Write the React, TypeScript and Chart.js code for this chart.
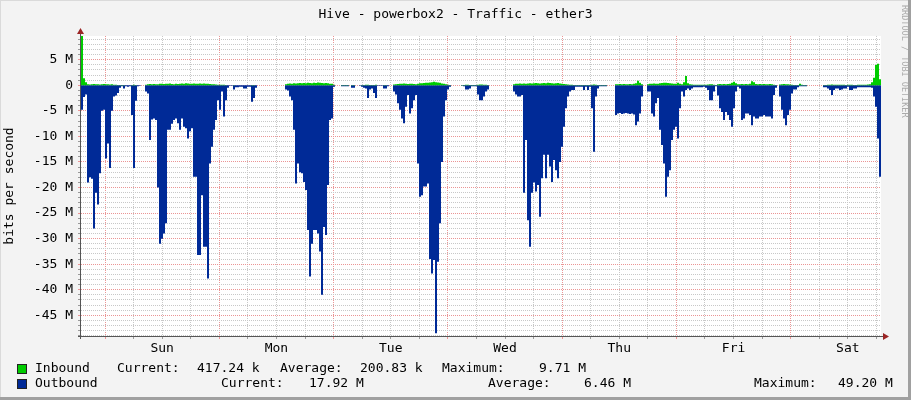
import { useEffect, useRef } from 'react';
import { Chart, registerables } from 'chart.js';

Chart.register(...registerables);

const TITLE = 'Hive - powerbox2 - Traffic - ether3';
const Y_TITLE = 'bits per second';
const WATERMARK = 'RRDTOOL / TOBI OETIKER';
const DAY_LABELS = ['Sun', 'Mon', 'Tue', 'Wed', 'Thu', 'Fri', 'Sat'];

// time axis in hours over one week; first midnight (Sun 00:00) after start
const SPAN_HOURS = 168;
const FIRST_MIDNIGHT = 5.04;
const SAMPLE_HOURS = 0.42; // 400 samples over 168 h

const Y_MIN = -49.05;
const Y_MAX = 9.65;

// Inbound traffic, Mbit/s (plotted upward)
const inbound = [
  9.7, 1.4, 0.6, 0.2, 0.15, 0.2, 0.25, 0.2, 0.2, 0.15,
  0.2, 0.25, 0.2, 0.2, 0.15, 0.2, 0.1, 0.1, 0.05, 0.05,
  0.05, 0.05, 0, 0, 0, 0.05, 0.1, 0.05, 0, 0,
  0, 0, 0.1, 0.2, 0.25, 0.2, 0.25, 0.2, 0.2, 0.3,
  0.3, 0.25, 0.3, 0.3, 0.35, 0.25, 0.2, 0.3, 0.25, 0.3,
  0.35, 0.3, 0.4, 0.35, 0.3, 0.3, 0.35, 0.3, 0.3, 0.35,
  0.3, 0.35, 0.3, 0.3, 0.25, 0.2, 0.2, 0.15, 0.1, 0.1,
  0.1, 0.1, 0.05, 0, 0, 0, 0.05, 0, 0, 0,
  0, 0, 0, 0, 0, 0.05, 0.05, 0, 0, 0,
  0, 0, 0, 0, 0, 0, 0, 0, 0, 0,
  0, 0, 0.2, 0.3, 0.35, 0.3, 0.4, 0.35, 0.4, 0.45,
  0.4, 0.45, 0.4, 0.5, 0.45, 0.4, 0.5, 0.45, 0.55, 0.5,
  0.45, 0.4, 0.45, 0.4, 0.3, 0.3, 0.1, 0, 0, 0,
  0.05, 0.05, 0.05, 0.05, 0, 0.05, 0.05, 0, 0, 0,
  0.05, 0.05, 0.1, 0.1, 0.05, 0.05, 0.05, 0.1, 0, 0,
  0, 0.05, 0.05, 0, 0, 0, 0.15, 0.2, 0.25, 0.3,
  0.3, 0.35, 0.3, 0.25, 0.3, 0.3, 0.25, 0.2, 0.3, 0.4,
  0.4, 0.45, 0.5, 0.5, 0.55, 0.6, 0.7, 0.6, 0.55, 0.5,
  0.35, 0.3, 0.2, 0.1, 0.05, 0, 0, 0, 0, 0,
  0.05, 0.05, 0.1, 0.1, 0.05, 0.05, 0.05, 0.05, 0.1, 0.15,
  0.15, 0.1, 0.1, 0.05, 0, 0, 0, 0, 0, 0,
  0, 0, 0, 0, 0, 0, 0.2, 0.3, 0.3, 0.35,
  0.3, 0.35, 0.3, 0.35, 0.4, 0.35, 0.4, 0.45, 0.4, 0.35,
  0.4, 0.45, 0.4, 0.5, 0.45, 0.4, 0.35, 0.4, 0.45, 0.35,
  0.3, 0.25, 0.2, 0.15, 0.1, 0.1, 0.05, 0.05, 0.05, 0.05,
  0.05, 0.05, 0.05, 0.05, 0.05, 0.1, 0.15, 0.1, 0.05, 0.05,
  0.05, 0.05, 0.05, 0, 0, 0, 0, 0.2, 0.2, 0.25,
  0.2, 0.25, 0.2, 0.2, 0.25, 0.2, 0.3, 0.4, 0.9, 0.5,
  0.2, 0, 0, 0.2, 0.3, 0.3, 0.35, 0.3, 0.3, 0.4,
  0.45, 0.5, 0.5, 0.45, 0.4, 0.35, 0.3, 0.3, 0.5, 0.3,
  0.2, 0.6, 1.8, 0.4, 0.2, 0.15, 0.1, 0.1, 0.1, 0.1,
  0.1, 0.1, 0.1, 0.15, 0.2, 0.2, 0.1, 0.05, 0.2, 0.25,
  0.2, 0.25, 0.2, 0.25, 0.3, 0.5, 0.7, 0.4, 0.2, 0.2,
  0.25, 0.2, 0.25, 0.2, 0.3, 0.8, 0.6, 0.25, 0.2, 0.25,
  0.2, 0.25, 0.2, 0.2, 0.25, 0.2, 0.1, 0.05, 0, 0.15,
  0.2, 0.25, 0.2, 0.2, 0.15, 0.1, 0.05, 0.05, 0.05, 0.3,
  0.1, 0.05, 0.05, 0, 0, 0, 0, 0, 0, 0,
  0, 0.05, 0.05, 0.1, 0.1, 0.15, 0.1, 0.1, 0.1, 0.1,
  0.1, 0.1, 0.05, 0.1, 0.1, 0.1, 0.05, 0.05, 0.1, 0.1,
  0.1, 0.1, 0.1, 0.15, 0.2, 0.6, 1.5, 4.0, 4.2, 1.2,
];

// Outbound traffic, Mbit/s (plotted downward)
const outbound = [
  -4.8, -2.3, -1.8, -19, -18, -18.3, -28, -21, -23.3, -17.2,
  -5, -4.8, -14.3, -11.4, -16.2, -5, -2.2, -2, -1.5, -0.5,
  -0.2, -0.6, -0.2, -0.3, -0.2, -5.8, -16.2, -3, -0.2, -0.1,
  0, 0, -1.2, -1.6, -10.7, -6.7, -6.5, -6.8, -20, -31,
  -30, -29, -27, -8.7, -8.7, -7.5, -6.8, -6.5, -7.4, -8.7,
  -6.5, -8.1, -8.4, -10.4, -9, -8.4, -17.9, -17.9, -33.2, -33.2,
  -21.5, -31.6, -31.6, -37.8, -15.3, -12, -8.7, -6.8, -2.9, -4.8,
  -1.2, -6.1, -2.9, -0.5, -0.1, -0.1, -0.8, -0.4, -0.4, -0.3,
  -0.3, -0.6, -0.6, -0.3, -0.3, -3.2, -2.5, -0.5, 0, 0,
  0, 0, 0, 0, 0, 0, 0, 0, 0, 0,
  0, 0, -0.8, -1.0, -2.2, -2.9, -8.7, -19.2, -15.3, -17.0,
  -17.2, -18.9, -20.5, -28.3, -37.4, -31, -28.3, -28.3, -29, -32.5,
  -41, -27.7, -29.3, -19.5, -6.8, -6.5, -0.3, 0, 0, 0,
  -0.2, -0.2, -0.2, -0.2, 0, -0.5, -0.5, 0, 0, -0.1,
  -0.3, -0.5, -0.6, -2.5, -0.8, -0.6, -1.5, -2.5, -0.1, -0.1,
  -0.1, -0.6, -0.6, -0.2, 0, 0, -1.2, -1.8, -3.5, -4.8,
  -6.5, -7.4, -4.2, -1.9, -5.5, -4.5, -2.9, -1.9, -15.3, -21.8,
  -21.5, -19.8, -19.8, -19.2, -34, -36.8, -34.2, -48.5, -34.5, -27,
  -15, -6.1, -2.9, -0.8, -0.3, 0, 0, 0, 0, 0,
  -0.1, -0.2, -0.8, -0.8, -0.6, -0.2, -0.2, -0.2, -1.8, -2.9,
  -2.9, -2.2, -1.2, -0.8, 0, 0, 0, 0, 0, 0,
  0, 0, 0, 0, 0, 0, -1.2, -1.8, -2.2, -2.2,
  -1.9, -21, -10.7, -26.4, -31.6, -21, -19, -20.8, -19.5, -25.7,
  -18.2, -13.6, -18.2, -13.6, -15.9, -18.9, -14.6, -16.6, -18.2, -15,
  -12, -8.1, -4.5, -2.2, -1.2, -0.9, -0.9, -0.3, -0.3, -0.3,
  -0.3, -0.9, -0.3, -0.9, -0.3, -4.5, -13, -2.2, -0.6, -0.2,
  -0.2, -0.2, -0.2, 0, 0, 0, 0, -5.8, -5.5, -5.4,
  -5.6, -5.5, -5.4, -5.5, -5.6, -5.5, -5.7, -7.8, -7.1, -5.5,
  -2.2, 0, 0, -1.2, -1.2, -5.5, -6.1, -3.5, -2.5, -8.7,
  -11.7, -15.3, -21.8, -17.9, -16.6, -10.7, -8.7, -8.1, -10.4, -4.5,
  -1.2, -2.2, -0.9, -0.6, -0.9, -0.6, -0.4, -0.4, -0.4, -0.4,
  -0.4, -0.3, -0.5, -0.9, -2.9, -2.9, -1.2, -0.2, -2, -4.5,
  -5.2, -6.8, -5.2, -5.8, -6.8, -8.1, -4.5, -1.2, -0.3, -0.6,
  -6.8, -6.5, -5.5, -5.5, -5.8, -7.8, -6.1, -6.5, -6.5, -6.1,
  -6.1, -5.8, -6.1, -6.1, -6.1, -6.5, -1.9, -0.5, 0, -2.2,
  -4.8, -6.5, -7.8, -5.8, -4.8, -1.6, -0.8, -0.8, -0.4, -0.2,
  -0.2, -0.2, -0.2, 0, 0, 0, 0, 0, 0, 0,
  0, -0.4, -0.4, -0.6, -0.9, -1.9, -0.9, -0.6, -0.6, -0.9,
  -0.8, -0.6, -0.6, -0.3, -0.9, -0.9, -0.6, -0.6, -0.4, -0.4,
  -0.4, -0.4, -0.4, -0.4, -0.4, -0.5, -2.2, -4.2, -10.4, -17.9,
];

const legendInbound = ['Inbound', 'Current:', '417.24 k', 'Average:', '200.83 k', 'Maximum:', '9.71 M'];
const legendOutbound = ['Outbound', 'Current:', '17.92 M', 'Average:', '6.46 M', 'Maximum:', '49.20 M'];

const GREEN = '#00CC00';
const BLUE = '#002A97';
const MINOR = '#C8C8C8';
const MAJOR = '#EB9595';
const FONT_FAMILY = '"DejaVu Sans Mono", monospace';

function toPoints(values: number[]) {
  const pts = values.map((v, i) => ({ x: i * SAMPLE_HOURS, y: v }));
  pts.push({ x: SPAN_HOURS, y: values[values.length - 1] });
  return pts;
}

const xGridHours = Array.from({ length: 28 }, (_, k) => FIRST_MIDNIGHT + 6 * k);
const yGridValues = Array.from({ length: 59 }, (_, k) => -49 + k);

function isMidnight(h: number) {
  const k = Math.round((h - FIRST_MIDNIGHT) / 6);
  return k % 4 === 0;
}

const rrdPlugin = {
  id: 'rrdDecor',
  beforeDraw(chart: any) {
    const { ctx, chartArea: a } = chart;
    ctx.save();
    ctx.fillStyle = '#F3F3F3';
    ctx.fillRect(0, 0, chart.width, chart.height);
    ctx.fillStyle = '#FFFFFF';
    ctx.fillRect(a.left, a.top, a.right - a.left, a.bottom - a.top);
    ctx.restore();
  },
  afterDraw(chart: any) {
    const { ctx, chartArea: a } = chart;
    ctx.save();
    // axes
    ctx.strokeStyle = '#555555';
    ctx.lineWidth = 1;
    ctx.beginPath();
    ctx.moveTo(a.left - 0.5, a.bottom + 3);
    ctx.lineTo(a.left - 0.5, a.top - 3);
    ctx.moveTo(a.left - 3, a.bottom + 0.5);
    ctx.lineTo(a.right + 3, a.bottom + 0.5);
    ctx.stroke();
    // arrows
    ctx.fillStyle = '#9B2525';
    ctx.beginPath();
    ctx.moveTo(a.left - 4, a.top - 2);
    ctx.lineTo(a.left + 3, a.top - 2);
    ctx.lineTo(a.left - 0.5, a.top - 8);
    ctx.closePath();
    ctx.fill();
    ctx.beginPath();
    ctx.moveTo(a.right + 2, a.bottom - 3);
    ctx.lineTo(a.right + 2, a.bottom + 4);
    ctx.lineTo(a.right + 8, a.bottom + 0.5);
    ctx.closePath();
    ctx.fill();

    // legend
    ctx.font = `13px ${FONT_FAMILY}`;
    ctx.textBaseline = 'middle';
    ctx.textAlign = 'left';
    const rows = [
      { y: 368.5, color: GREEN, items: legendInbound, xs: [35, 117, 197, 280, 360, 442, 539] },
      { y: 384, color: BLUE, items: legendOutbound, xs: [35, 221, 309, 488, 584, 754, 838] },
    ];
    rows.forEach((r) => {
      ctx.fillStyle = r.color;
      ctx.fillRect(17, Math.round(r.y) - 5, 10, 10);
      ctx.strokeStyle = '#222222';
      ctx.strokeRect(17.5, Math.round(r.y) - 4.5, 9, 9);
      ctx.fillStyle = '#000000';
      r.items.forEach((t, i) => ctx.fillText(t, r.xs[i], r.y));
    });

    // watermark
    ctx.save();
    ctx.translate(900, 5);
    ctx.rotate(Math.PI / 2);
    ctx.font = `8.5px ${FONT_FAMILY}`;
    ctx.fillStyle = '#AAAAAA';
    ctx.textBaseline = 'top';
    ctx.fillText(WATERMARK, 0, -8);
    ctx.restore();

    // frame
    ctx.fillStyle = '#A0A0A0';
    ctx.fillRect(chart.width - 3, 0, 3, chart.height);
    ctx.fillRect(0, chart.height - 3, chart.width, 3);
    ctx.fillStyle = '#DADADA';
    ctx.fillRect(0, 0, chart.width - 3, 1);
    ctx.fillRect(0, 0, 1, chart.height - 3);
    ctx.restore();
  },
};

export default function App() {
  const ref = useRef<HTMLCanvasElement>(null);
  useEffect(() => {
    document.body.style.margin = '0';
    const chart = new Chart(ref.current as HTMLCanvasElement, {
      type: 'line',
      data: {
        datasets: [
          {
            label: 'Inbound',
            data: toPoints(inbound),
            stepped: 'before',
            fill: 'origin',
            backgroundColor: GREEN,
            borderColor: 'rgba(0,0,0,0)',
            borderWidth: 0,
            pointRadius: 0,
          },
          {
            label: 'Outbound',
            data: toPoints(outbound),
            stepped: 'before',
            fill: 'origin',
            backgroundColor: BLUE,
            borderColor: 'rgba(0,0,0,0)',
            borderWidth: 0,
            pointRadius: 0,
          },
        ],
      },
      options: {
        animation: false,
        responsive: false,
        devicePixelRatio: 1,
        parsing: false as any,
        normalized: true,
        events: [],
        layout: { padding: 0 },
        plugins: {
          legend: { display: false },
          tooltip: { enabled: false },
          title: {
            display: true,
            text: TITLE,
            color: '#000000',
            font: { family: FONT_FAMILY, size: 13, weight: 'normal' as any },
            padding: { top: 7, bottom: 13.4 },
          },
        },
        scales: {
          x: {
            type: 'linear',
            min: 0,
            max: SPAN_HOURS,
            afterBuildTicks: (s: any) => {
              s.ticks = xGridHours.map((v) => ({ value: v }));
            },
            afterFit: (s: any) => {
              s.height = 64;
              s.paddingLeft = 0;
              s.paddingRight = 30;
            },
            ticks: {
              autoSkip: false,
              maxRotation: 0,
              minRotation: 0,
              padding: 2,
              color: '#000000',
              font: { family: FONT_FAMILY, size: 13 },
              callback: (v: any) => {
                const k = Math.round((Number(v) - FIRST_MIDNIGHT) / 6);
                return k % 4 === 2 ? DAY_LABELS[(k - 2) / 4] : '';
              },
            },
            grid: {
              color: (c: any) => (c.tick && isMidnight(c.tick.value) ? MAJOR : MINOR),
              tickColor: (c: any) => (c.tick && isMidnight(c.tick.value) ? MAJOR : '#999999'),
              tickLength: 3,
              lineWidth: 1,
            },
            border: { display: false, dash: [1, 1] },
          },
          y: {
            type: 'linear',
            min: Y_MIN,
            max: Y_MAX,
            afterBuildTicks: (s: any) => {
              s.ticks = yGridValues.map((v) => ({ value: v }));
            },
            afterFit: (s: any) => {
              s.width = 81;
              s.paddingTop = 0;
              s.paddingBottom = 0;
            },
            ticks: {
              autoSkip: false,
              padding: 5,
              color: '#000000',
              font: { family: FONT_FAMILY, size: 13 },
              callback: (v: any) => {
                const n = Math.round(Number(v));
                if (n % 5 !== 0) return '';
                return n === 0 ? '0' : `${n} M`;
              },
            },
            grid: {
              color: (c: any) => (c.tick && Math.round(c.tick.value) % 5 === 0 ? MAJOR : MINOR),
              tickColor: (c: any) => (c.tick && Math.round(c.tick.value) % 5 === 0 ? MAJOR : '#999999'),
              tickLength: 3,
              lineWidth: 1,
            },
            border: { display: false, dash: [1, 1] },
            title: {
              display: true,
              text: Y_TITLE,
              color: '#000000',
              font: { family: FONT_FAMILY, size: 13 },
              padding: { top: 2, bottom: 0 },
            },
          },
        },
      },
      plugins: [rrdPlugin],
    } as any);
    return () => chart.destroy();
  }, []);
  return (
    <div style={{ width: 911, height: 400 }}>
      <canvas ref={ref} width={911} height={400} style={{ display: 'block', width: 911, height: 400 }} />
    </div>
  );
}
